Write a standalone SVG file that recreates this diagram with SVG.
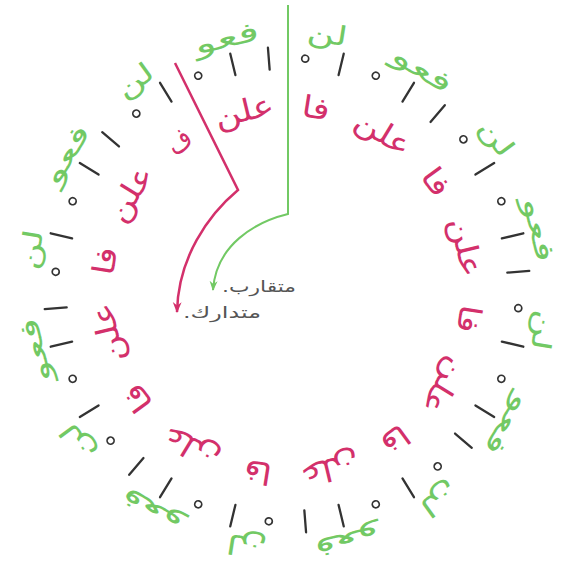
<svg xmlns="http://www.w3.org/2000/svg" width="564" height="573" viewBox="0 0 564 573">
<style>
.g{fill:#72c964;font-family:"DejaVu Sans",sans-serif;font-size:27px;text-anchor:middle}
.r{fill:#d3306b;font-family:"DejaVu Sans",sans-serif;font-size:30px;text-anchor:middle}
.bar{stroke:#333;stroke-width:2.3;stroke-linecap:round}
.dot{fill:none;stroke:#333;stroke-width:1.7}
.lbl{fill:#555;font-family:"DejaVu Sans",sans-serif;font-size:16px;text-anchor:middle;direction:rtl;unicode-bidi:embed}
.cg{fill:none;stroke:#72c964;stroke-width:2}
.cr{fill:none;stroke:#d3306b;stroke-width:2.5}
</style>
<defs>
<line id="bar" class="bar" x1="287" y1="47" x2="287" y2="69"/>
<circle id="dot" class="dot" cx="287" cy="58" r="3.5"/>
<marker id="ag" viewBox="0 0 10 10" refX="9" refY="5" markerWidth="10" markerHeight="10" markerUnits="userSpaceOnUse" orient="auto"><path d="M0,1 L10,5 L0,9 L3,5 z" fill="#72c964"/></marker>
<marker id="ar" viewBox="0 0 10 10" refX="9" refY="5" markerWidth="11" markerHeight="11" markerUnits="userSpaceOnUse" orient="auto"><path d="M0,1 L10,5 L0,9 L3,5 z" fill="#d3306b"/></marker>
</defs>
<g id="outer-ring">
<text class="g" x="287" y="32" dy="0.3em" textLength="66" lengthAdjust="spacingAndGlyphs" transform="rotate(-13.5 287 290)">فعو</text>
<text class="g" x="287" y="32" dy="0.3em" textLength="40" lengthAdjust="spacingAndGlyphs" transform="rotate(-36 287 290)">لن</text>
<text class="g" x="287" y="32" dy="0.3em" textLength="66" lengthAdjust="spacingAndGlyphs" transform="rotate(-58.5 287 290)">فعو</text>
<text class="g" x="287" y="32" dy="0.3em" textLength="40" lengthAdjust="spacingAndGlyphs" transform="rotate(-81 287 290)">لن</text>
<text class="g" x="287" y="32" dy="0.3em" textLength="66" lengthAdjust="spacingAndGlyphs" transform="rotate(-103.5 287 290)">فعو</text>
<text class="g" x="287" y="32" dy="0.3em" textLength="40" lengthAdjust="spacingAndGlyphs" transform="rotate(-126 287 290)">لن</text>
<text class="g" x="287" y="32" dy="0.3em" textLength="66" lengthAdjust="spacingAndGlyphs" transform="rotate(-148.5 287 290)">فعو</text>
<text class="g" x="287" y="32" dy="0.3em" textLength="40" lengthAdjust="spacingAndGlyphs" transform="rotate(-171 287 290)">لن</text>
<text class="g" x="287" y="32" dy="0.3em" textLength="66" lengthAdjust="spacingAndGlyphs" transform="rotate(-193.5 287 290)">فعو</text>
<text class="g" x="287" y="32" dy="0.3em" textLength="40" lengthAdjust="spacingAndGlyphs" transform="rotate(-216 287 290)">لن</text>
<text class="g" x="287" y="32" dy="0.3em" textLength="66" lengthAdjust="spacingAndGlyphs" transform="rotate(-238.5 287 290)">فعو</text>
<text class="g" x="287" y="32" dy="0.3em" textLength="40" lengthAdjust="spacingAndGlyphs" transform="rotate(-261 287 290)">لن</text>
<text class="g" x="287" y="32" dy="0.3em" textLength="66" lengthAdjust="spacingAndGlyphs" transform="rotate(-283.5 287 290)">فعو</text>
<text class="g" x="287" y="32" dy="0.3em" textLength="40" lengthAdjust="spacingAndGlyphs" transform="rotate(-306 287 290)">لن</text>
<text class="g" x="287" y="32" dy="0.3em" textLength="66" lengthAdjust="spacingAndGlyphs" transform="rotate(-328.5 287 290)">فعو</text>
<text class="g" x="287" y="32" dy="0.3em" textLength="40" lengthAdjust="spacingAndGlyphs" transform="rotate(-351 287 290)">لن</text>
</g>
<g id="marks">
<use href="#bar" transform="rotate(-4.5 287 290)"/>
<use href="#bar" transform="rotate(-13.5 287 290)"/>
<use href="#dot" transform="rotate(-22.5 287 290)"/>
<use href="#bar" transform="rotate(-31.5 287 290)"/>
<use href="#dot" transform="rotate(-40.5 287 290)"/>
<use href="#bar" transform="rotate(-49.5 287 290)"/>
<use href="#bar" transform="rotate(-58.5 287 290)"/>
<use href="#dot" transform="rotate(-67.5 287 290)"/>
<use href="#bar" transform="rotate(-76.5 287 290)"/>
<use href="#dot" transform="rotate(-85.5 287 290)"/>
<use href="#bar" transform="rotate(-94.5 287 290)"/>
<use href="#bar" transform="rotate(-103.5 287 290)"/>
<use href="#dot" transform="rotate(-112.5 287 290)"/>
<use href="#bar" transform="rotate(-121.5 287 290)"/>
<use href="#dot" transform="rotate(-130.5 287 290)"/>
<use href="#bar" transform="rotate(-139.5 287 290)"/>
<use href="#bar" transform="rotate(-148.5 287 290)"/>
<use href="#dot" transform="rotate(-157.5 287 290)"/>
<use href="#bar" transform="rotate(-166.5 287 290)"/>
<use href="#dot" transform="rotate(-175.5 287 290)"/>
<use href="#bar" transform="rotate(-184.5 287 290)"/>
<use href="#bar" transform="rotate(-193.5 287 290)"/>
<use href="#dot" transform="rotate(-202.5 287 290)"/>
<use href="#bar" transform="rotate(-211.5 287 290)"/>
<use href="#dot" transform="rotate(-220.5 287 290)"/>
<use href="#bar" transform="rotate(-229.5 287 290)"/>
<use href="#bar" transform="rotate(-238.5 287 290)"/>
<use href="#dot" transform="rotate(-247.5 287 290)"/>
<use href="#bar" transform="rotate(-256.5 287 290)"/>
<use href="#dot" transform="rotate(-265.5 287 290)"/>
<use href="#bar" transform="rotate(-274.5 287 290)"/>
<use href="#bar" transform="rotate(-283.5 287 290)"/>
<use href="#dot" transform="rotate(-292.5 287 290)"/>
<use href="#bar" transform="rotate(-301.5 287 290)"/>
<use href="#dot" transform="rotate(-310.5 287 290)"/>
<use href="#bar" transform="rotate(-319.5 287 290)"/>
<use href="#bar" transform="rotate(-328.5 287 290)"/>
<use href="#dot" transform="rotate(-337.5 287 290)"/>
<use href="#bar" transform="rotate(-346.5 287 290)"/>
<use href="#dot" transform="rotate(-355.5 287 290)"/>
</g>
<g id="inner-ring">
<text class="r" x="287" y="107" dy="0.3em" textLength="24" lengthAdjust="spacingAndGlyphs" transform="rotate(-36 287 290)">ف</text>
<text class="r" x="287" y="107" dy="0.3em" textLength="60" lengthAdjust="spacingAndGlyphs" transform="rotate(-58.5 287 290)">علن</text>
<text class="r" x="287" y="107" dy="0.3em" textLength="28" lengthAdjust="spacingAndGlyphs" transform="rotate(-81 287 290)">فا</text>
<text class="r" x="287" y="107" dy="0.3em" textLength="60" lengthAdjust="spacingAndGlyphs" transform="rotate(-103.5 287 290)">علن</text>
<text class="r" x="287" y="107" dy="0.3em" textLength="28" lengthAdjust="spacingAndGlyphs" transform="rotate(-126 287 290)">فا</text>
<text class="r" x="287" y="107" dy="0.3em" textLength="60" lengthAdjust="spacingAndGlyphs" transform="rotate(-148.5 287 290)">علن</text>
<text class="r" x="287" y="107" dy="0.3em" textLength="28" lengthAdjust="spacingAndGlyphs" transform="rotate(-171 287 290)">فا</text>
<text class="r" x="287" y="107" dy="0.3em" textLength="60" lengthAdjust="spacingAndGlyphs" transform="rotate(-193.5 287 290)">علن</text>
<text class="r" x="287" y="107" dy="0.3em" textLength="28" lengthAdjust="spacingAndGlyphs" transform="rotate(-216 287 290)">فا</text>
<text class="r" x="287" y="107" dy="0.3em" textLength="60" lengthAdjust="spacingAndGlyphs" transform="rotate(-238.5 287 290)">علن</text>
<text class="r" x="287" y="107" dy="0.3em" textLength="28" lengthAdjust="spacingAndGlyphs" transform="rotate(-261 287 290)">فا</text>
<text class="r" x="287" y="107" dy="0.3em" textLength="60" lengthAdjust="spacingAndGlyphs" transform="rotate(-283.5 287 290)">علن</text>
<text class="r" x="287" y="107" dy="0.3em" textLength="28" lengthAdjust="spacingAndGlyphs" transform="rotate(-306 287 290)">فا</text>
<text class="r" x="287" y="107" dy="0.3em" textLength="60" lengthAdjust="spacingAndGlyphs" transform="rotate(-328.5 287 290)">علن</text>
<text class="r" x="287" y="107" dy="0.3em" textLength="28" lengthAdjust="spacingAndGlyphs" transform="rotate(-351 287 290)">فا</text>
<text class="r" x="287" y="107" dy="0.3em" textLength="60" lengthAdjust="spacingAndGlyphs" transform="rotate(-13.5 287 290)">علن</text>
</g>
<g id="connectors">
<path class="cg" d="M288,5 V214 C255,222 216,245 213,290" marker-end="url(#ag)"/>
<path class="cr" d="M175,63 L238,190 C208,215 178,258 177,312" marker-end="url(#ar)"/>
</g>
<g id="labels">
<text class="lbl" x="259" y="292" textLength="74" lengthAdjust="spacingAndGlyphs">متقارب.</text>
<text class="lbl" x="222" y="318" textLength="78" lengthAdjust="spacingAndGlyphs">متدارك.</text>
</g>
</svg>
